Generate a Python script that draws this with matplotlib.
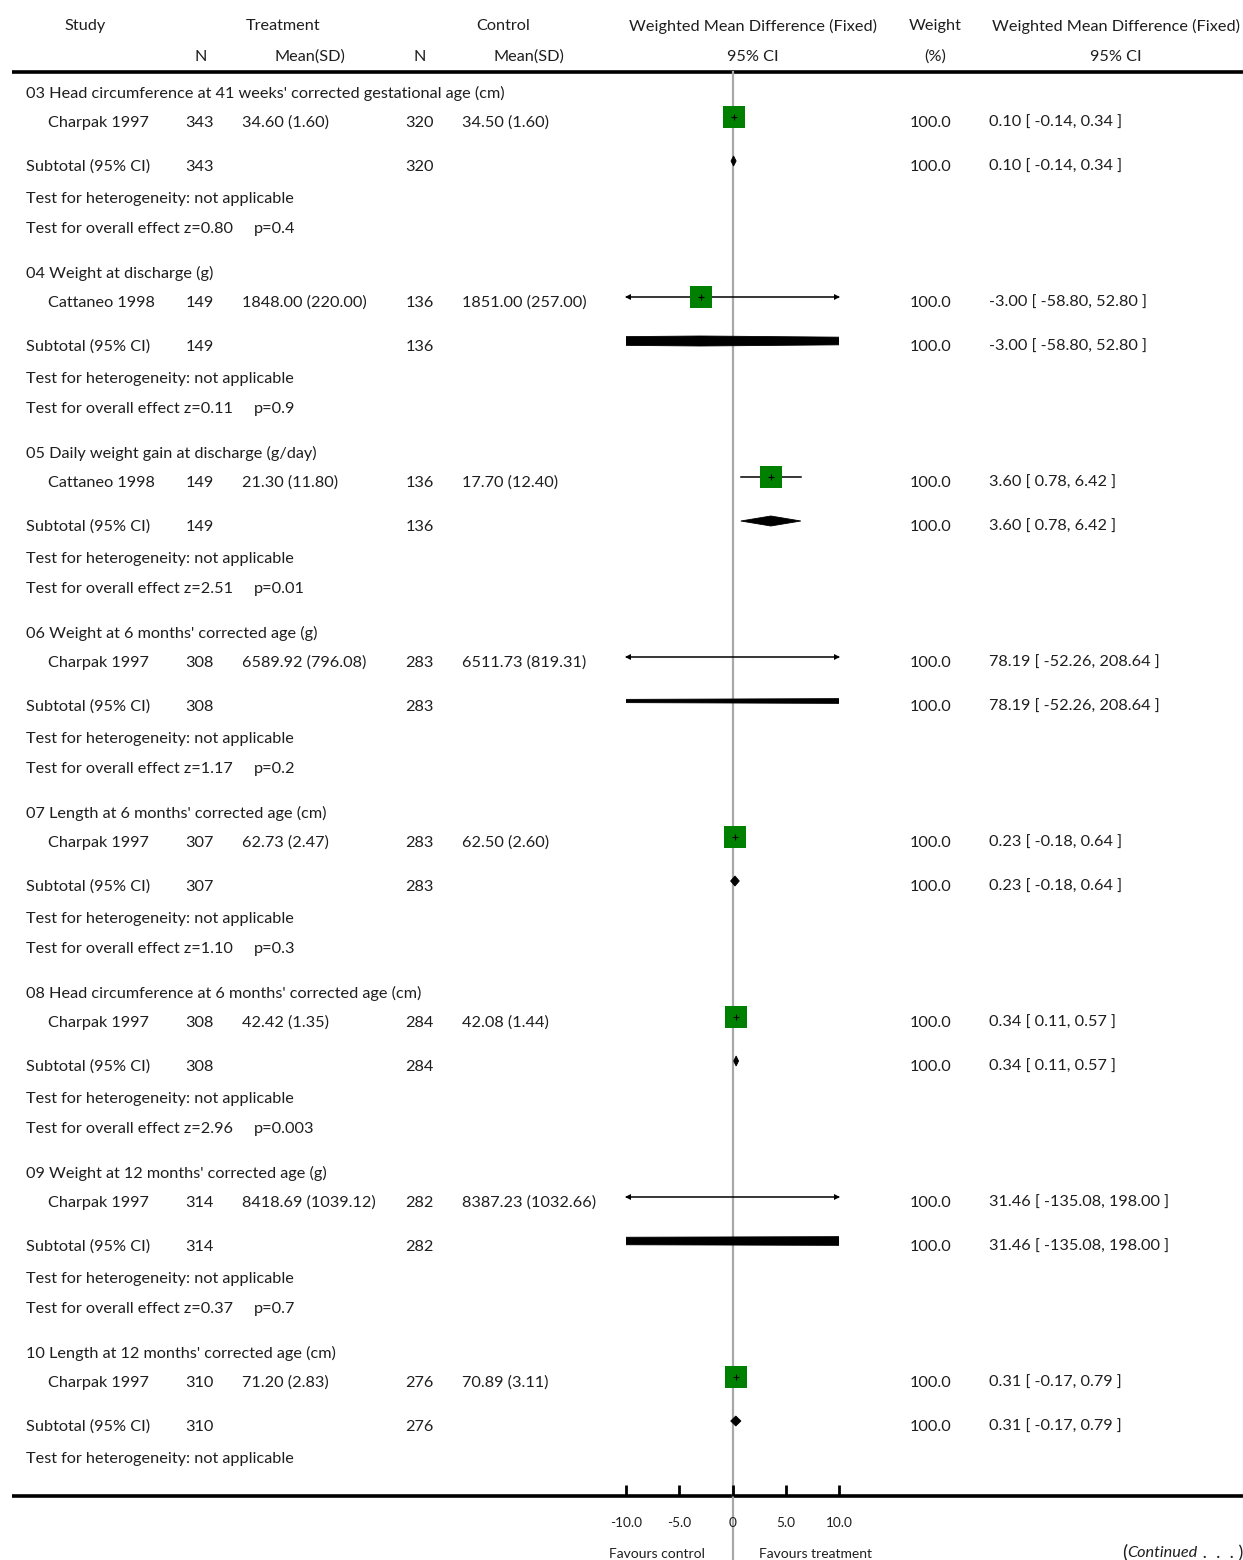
"""Forest plot: weighted mean difference (fixed), Charpak / Cattaneo outcomes."""

import matplotlib
matplotlib.use("Agg")
import matplotlib.pyplot as plt
from matplotlib.patches import Polygon

# ─────────────────────────────────────────────────────────────────────────────
# Data
# ─────────────────────────────────────────────────────────────────────────────

sections = [
    "03 Head circumference at 41 weeks' corrected gestational age (cm)",
    "04 Weight at discharge (g)",
    "05 Daily weight gain at discharge (g/day)",
    "06 Weight at 6 months' corrected age (g)",
    "07 Length at 6 months' corrected age (cm)",
    "08 Head circumference at 6 months' corrected age (cm)",
    "09 Weight at 12 months' corrected age (g)",
    "10 Length at 12 months' corrected age (cm)",
]
studies = ["Charpak 1997", "Cattaneo 1998", "Cattaneo 1998", "Charpak 1997",
           "Charpak 1997", "Charpak 1997", "Charpak 1997", "Charpak 1997"]
trt_n = [343, 149, 149, 308, 307, 308, 314, 310]
trt_msd = ["34.60 (1.60)", "1848.00 (220.00)", "21.30 (11.80)", "6589.92 (796.08)",
           "62.73 (2.47)", "42.42 (1.35)", "8418.69 (1039.12)", "71.20 (2.83)"]
ctl_n = [320, 136, 136, 283, 283, 284, 282, 276]
ctl_msd = ["34.50 (1.60)", "1851.00 (257.00)", "17.70 (12.40)", "6511.73 (819.31)",
           "62.50 (2.60)", "42.08 (1.44)", "8387.23 (1032.66)", "70.89 (3.11)"]
wmd = [0.10, -3.00, 3.60, 78.19, 0.23, 0.34, 31.46, 0.31]
ci_lo = [-0.14, -58.80, 0.78, -52.26, -0.18, 0.11, -135.08, -0.17]
ci_hi = [0.34, 52.80, 6.42, 208.64, 0.64, 0.57, 198.00, 0.79]
weights = [100.0, 100.0, 100.0, 100.0, 100.0, 100.0, 100.0, 100.0]
z_vals = ["0.80", "0.11", "2.51", "1.17", "1.10", "2.96", "0.37", None]
p_vals = ["0.4", "0.9", "0.01", "0.2", "0.3", "0.003", "0.7", None]

x_ticks = [-10, -5, 0, 5, 10]
x_ticklabels = ["-10.0", "-5.0", "0", "5.0", "10.0"]

# ─────────────────────────────────────────────────────────────────────────────
# Layout (pixels)
# ─────────────────────────────────────────────────────────────────────────────

W, H = 1243, 1560
FONT = ["Lato", "DejaVu Sans"]
FS = 11.7
TXT = "#1e1e1e"
GREEN = "#008000"

X_LO, X_HI = 626, 839          # forest panel, -10 .. 10
Y_TOP, Y_BOT = 72, 1496        # thick rules
BLOCK0, BLOCK_STEP = 91, 180
DY = 0.5                       # text baseline nudge

plt.rcParams["font.family"] = FONT

fig = plt.figure(figsize=(W / 100, H / 100), dpi=100)
ax = fig.add_axes([0, 0, 1, 1])
ax.set_xlim(0, W)
ax.set_ylim(H, 0)
ax.axis("off")


def txt(x, y, s, ha="left", **kw):
    return ax.text(x, y + DY, s, ha=ha, va="center_baseline",
                   fontsize=kw.pop("fs", FS), color=TXT, **kw)


# header
txt(85, 24, "Study", ha="center")
txt(283, 24, "Treatment", ha="center")
txt(503, 24, "Control", ha="center")
txt(753, 24, "Weighted Mean Difference (Fixed)", ha="center")
txt(935, 24, "Weight", ha="center")
txt(1116, 24, "Weighted Mean Difference (Fixed)", ha="center")
txt(201, 55, "N", ha="center")
txt(310, 55, "Mean(SD)", ha="center")
txt(420, 55, "N", ha="center")
txt(529, 55, "Mean(SD)", ha="center")
txt(753, 55, "95% CI", ha="center")
txt(935, 55, "(%)", ha="center")
txt(1116, 55, "95% CI", ha="center")

ax.plot([12, W], [Y_TOP, Y_TOP], color="black", lw=2.6, solid_capstyle="butt")
ax.plot([12, W], [Y_BOT, Y_BOT], color="black", lw=2.6, solid_capstyle="butt")

# forest panel
fax = fig.add_axes([X_LO / W, (H - Y_BOT) / H, (X_HI - X_LO) / W, (Y_BOT - Y_TOP) / H])
fax.set_xlim(-10, 10)
fax.set_ylim(Y_BOT, Y_TOP)
fax.patch.set_alpha(0)
for sp in fax.spines.values():
    sp.set_visible(False)
fax.set_yticks([])
fax.set_xticks(x_ticks)
fax.set_xticklabels(x_ticklabels, fontsize=9.8, color=TXT)
fax.tick_params(axis="x", direction="in", length=8, width=2, pad=15)
fax.axvline(0, ymin=-(H - Y_BOT) / (Y_BOT - Y_TOP), ymax=1, clip_on=False,
            color="#a8a8a8", lw=1.6, zorder=0)

diamond_h = 10

for i in range(len(sections)):
    y0 = BLOCK0 + i * BLOCK_STEP
    y_study, y_sub, y_het, y_eff = y0 + 30, y0 + 74, y0 + 106, y0 + 136

    txt(26, y0, sections[i])
    txt(48, y_study, studies[i])
    txt(214, y_study, str(trt_n[i]), ha="right")
    txt(242, y_study, trt_msd[i])
    txt(434, y_study, str(ctl_n[i]), ha="right")
    txt(462, y_study, ctl_msd[i])
    ci_text = f"{wmd[i]:.2f} [ {ci_lo[i]:.2f}, {ci_hi[i]:.2f} ]"
    txt(910, y_study, f"{weights[i]:.1f}")
    txt(989, y_study, ci_text)

    txt(26, y_sub, "Subtotal (95% CI)")
    txt(214, y_sub, str(trt_n[i]), ha="right")
    txt(434, y_sub, str(ctl_n[i]), ha="right")
    txt(910, y_sub, f"{weights[i]:.1f}")
    txt(989, y_sub, ci_text)

    txt(26, y_het, "Test for heterogeneity: not applicable")
    if z_vals[i] is not None:
        txt(26, y_eff, f"Test for overall effect z={z_vals[i]}")
        txt(254, y_eff, f"p={p_vals[i]}")

    # study: CI line, arrows, square
    ym = y_study - 4
    lo, hi = max(ci_lo[i], -10), min(ci_hi[i], 10)
    fax.plot([lo, hi], [ym, ym], color="black", lw=1.1, zorder=2)
    if ci_lo[i] < -10:
        fax.plot([-10 + 0.2], [ym], marker="<", ms=5, color="black", mew=0,
                 clip_on=False, zorder=3)
    if ci_hi[i] > 10:
        fax.plot([10 - 0.2], [ym], marker=">", ms=5, color="black", mew=0,
                 clip_on=False, zorder=3)
    fax.plot([wmd[i]], [ym], marker="s", ms=16, color=GREEN, mew=0, zorder=2.5)
    fax.plot([wmd[i]], [ym], marker="+", ms=5, color="black", mew=0.8, zorder=3)

    # subtotal diamond (clipped by the panel)
    yd = y_sub - 4
    fax.add_patch(Polygon([(ci_lo[i], yd), (wmd[i], yd - diamond_h / 2),
                           (ci_hi[i], yd), (wmd[i], yd + diamond_h / 2)],
                          closed=True, facecolor="black", edgecolor="black",
                          lw=0.6, zorder=3))

# footer
txt(657, 1552, "Favours control", ha="center", fs=10)
txt(816, 1552, "Favours treatment", ha="center", fs=10)

# "(Continued . . . )" built right to left so it ends at the right edge
renderer = fig.canvas.get_renderer()
inv = ax.transData.inverted()
t_end = txt(1243, 1551, " .  .  . )", ha="right", fs=13)
x_left = inv.transform(t_end.get_window_extent(renderer).extents[:2])[0]
t_it = txt(x_left, 1551, "Continued", ha="right", style="italic")
x_left = inv.transform(t_it.get_window_extent(renderer).extents[:2])[0]
txt(x_left, 1550, "(", ha="right", fs=14)

fig.savefig("out.png", dpi=100)
